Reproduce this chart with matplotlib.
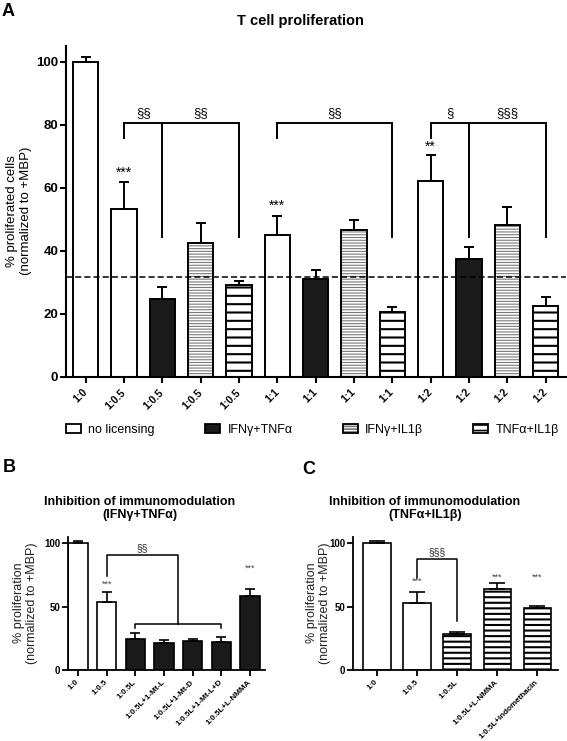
import numpy as np
import matplotlib
matplotlib.use('Agg')
import matplotlib.pyplot as plt
from matplotlib.patches import Patch
from matplotlib.legend_handler import HandlerTuple

plt.rcParams['font.family'] = ['Liberation Sans', 'DejaVu Sans']
plt.rcParams['hatch.linewidth'] = 1.2

W, H = 567, 741

# ---- panel A data
a_labels = ['1:0', '1:0.5', '1:0.5', '1:0.5', '1:0.5', '1:1', '1:1', '1:1', '1:1',
            '1:2', '1:2', '1:2', '1:2']
a_group = [0, 0, 1, 2, 3, 0, 1, 2, 3, 0, 1, 2, 3]
a_mean = [100, 53.1, 24.6, 42.3, 29.0, 45.0, 30.9, 46.6, 20.6, 62.2, 37.3, 48.2, 22.5]
a_err = [1.5, 8.8, 3.8, 6.6, 1.3, 6.0, 3.0, 3.1, 1.6, 8.1, 3.8, 5.6, 2.9]
a_cutoff = 31.7
group_names = ['no licensing', 'IFNγ+TNFα', 'IFNγ+IL1β', 'TNFα+IL1β']

# brackets: legs, leg bottoms, label x, labels
a_top = 80.6
a_brackets = [
    ([1, 2, 4], [75.7, 44.4, 44.4], [1.5, 3], ['§§', '§§']),
    ([5, 8], [75.7, 44.4], [6.5], ['§§']),
    ([9, 10, 12], [75.7, 44.4, 44.4], [9.5, 11], ['§', '§§§']),
]
a_stars = [(1, '***', 64.6), (5, '***', 54.2), (9, '**', 73.0)]

# ---- panel B data
b_labels = ['1:0', '1:0.5', '1:0.5L', '1:0.5L+1-Mt-L', '1:0.5L+1-Mt-D',
            '1:0.5L+1-Mt-L+D', '1:0.5L+L-NMMA']
b_group = [0, 0, 1, 1, 1, 1, 1]
b_mean = [100, 53.3, 24.4, 21.5, 22.8, 21.8, 58.8]
b_err = [1.5, 8.4, 4.5, 2.1, 1.9, 3.9, 5.5]
b_stars = [(1, '***', 67.5), (6, '***', 80.0)]

# ---- panel C data
c_labels = ['1:0', '1:0.5', '1:0.5L', '1:0.5L+L-NMMA', '1:0.5L+indomethacin']
c_group = [0, 0, 3, 3, 3]
c_mean = [100, 52.8, 28.5, 63.8, 48.6]
c_err = [1.5, 8.6, 1.5, 5.0, 1.6]
c_stars = [(1, '***', 70.0), (3, '***', 73.0), (4, '***', 73.0)]


def set_hlw(bars, lw):
    for p in bars:
        if hasattr(p, 'set_hatch_linewidth'):
            p.set_hatch_linewidth(lw)


def draw_bars(ax, means, errs, groups, width, lw, black_hatch, gray_hatch, capsize):
    x = np.arange(len(means))
    for xi, m, g in zip(x, means, groups):
        if g == 2:
            hb = ax.bar(xi, m, width, color='white', edgecolor='#7a7a7a',
                        hatch=gray_hatch, linewidth=0, zorder=2)
            set_hlw(hb, 0.8)
            ax.bar(xi, m, width, facecolor='none', edgecolor='black', linewidth=lw, zorder=3)
        elif g == 3:
            hb = ax.bar(xi, m, width, color='white', edgecolor='black',
                        hatch=black_hatch, linewidth=lw, zorder=2)
            set_hlw(hb, 1.5)
        else:
            face = '#1a1a1a' if g == 1 else 'white'
            ax.bar(xi, m, width, color=face, edgecolor='black', linewidth=lw, zorder=2)
    ax.errorbar(x, means, yerr=[np.zeros(len(errs)), errs], fmt='none', ecolor='black',
                elinewidth=lw, capsize=capsize, capthick=lw, zorder=4)
    return x


def style_axes(ax, labels, xlabsize, ylabsize, lw, xpad):
    for s in ['top', 'right']:
        ax.spines[s].set_visible(False)
    for s in ['left', 'bottom']:
        ax.spines[s].set_linewidth(lw)
    ax.tick_params(width=lw, length=4, labelsize=ylabsize, pad=1.5)
    ax.set_xticks(np.arange(len(labels)))
    ax.set_xticklabels(labels, rotation=45, ha='right', va='center',
                       rotation_mode='anchor', fontsize=xlabsize, fontweight='bold')
    ax.tick_params(axis='x', pad=xpad)
    for t in ax.get_yticklabels():
        t.set_fontweight('bold')


def rect(l, t, r, b):
    return [l / W, 1 - b / H, (r - l) / W, (b - t) / H]


fig = plt.figure(figsize=(W / 100, H / 100), dpi=100)

# ================= A
axA = fig.add_axes(rect(66, 45.9, 566, 376.7))
with plt.rc_context({'hatch.linewidth': 1.5}):
    xA = draw_bars(axA, a_mean, a_err, a_group, 0.665, 1.4, '--', '------', 3.8)
axA.set_xlim(-0.514, 12.53)
axA.set_ylim(0, 105)
axA.set_yticks([0, 20, 40, 60, 80, 100])
style_axes(axA, a_labels, 7.5, 9.5, 1.5, 6)
axA.axhline(a_cutoff, color='black', lw=1.1, ls=(0, (4, 2)), zorder=5)

for legs, bottoms, lx, labs in a_brackets:
    axA.plot([legs[0], legs[-1]], [a_top, a_top], color='black', lw=1.4, zorder=5,
             solid_capstyle='projecting')
    for lg, bt in zip(legs, bottoms):
        axA.plot([lg, lg], [bt, a_top], color='black', lw=1.4, zorder=5)
    for xx, s in zip(lx, labs):
        axA.text(xx, a_top + 1.2, s, ha='center', va='bottom', fontsize=9.5)
for xi, s, yy in a_stars:
    axA.text(xi, yy, s, ha='center', va='center', fontsize=10)

fig.text(300 / W, 1 - 20.7 / H, 'T cell proliferation', ha='center', va='center',
         fontsize=10.5, fontweight='bold')
fig.text(2 / W, 1 - 3 / H, 'A', ha='left', va='top', fontsize=13, fontweight='bold')
fig.text(19 / W, 1 - 211 / H, '% proliferated cells\n(normalized to +MBP)', rotation=90,
         ha='center', va='center', fontsize=9.5, linespacing=1.15)

# legend for A
h0 = Patch(facecolor='white', edgecolor='black', linewidth=1.3)
h1 = Patch(facecolor='#1a1a1a', edgecolor='black', linewidth=1.3)
h2 = (Patch(facecolor='white', edgecolor='#7a7a7a', hatch='------', linewidth=0),
      Patch(facecolor='none', edgecolor='black', linewidth=1.3))
h3 = Patch(facecolor='white', edgecolor='black', hatch='---', linewidth=1.3)
fig.legend([h0, h1, h2, h3], group_names, ncol=4, loc='center left',
           bbox_to_anchor=(66 / W, 1 - 430 / H), frameon=False, fontsize=9,
           handlelength=1.2, handleheight=0.75, handletextpad=0.6, columnspacing=4.0,
           borderaxespad=0, borderpad=0,
           handler_map={tuple: HandlerTuple(ndivide=1, pad=0)})

# ================= B
axB = fig.add_axes(rect(68, 537, 265, 670))
xB = draw_bars(axB, b_mean, b_err, b_group, 0.68, 1.2, '---', '------', 3.5)
axB.set_xlim(-0.35, 6.52)
axB.set_ylim(0, 105)
axB.set_yticks([0, 50, 100])
style_axes(axB, b_labels, 5.8, 7, 1.3, 4)
bk = 'black'
axB.plot([1, 1, 3.5, 3.5], [74, 91, 91, 36], color=bk, lw=1.1, zorder=5)
axB.plot([2, 2, 5, 5], [33, 36, 36, 33], color=bk, lw=1.1, zorder=5)
axB.text(2.25, 92.5, '§§', ha='center', va='bottom', fontsize=7.5, color='#222222')
for xi, s, yy in b_stars:
    axB.text(xi, yy, s, ha='center', va='center', fontsize=6.5, color='#444444')
fig.text(140 / W, 1 - 508.5 / H, 'Inhibition of immunomodulation\n(IFNγ+TNFα)',
         ha='center', va='center', fontsize=9, fontweight='bold', linespacing=1.1)
fig.text(3 / W, 1 - 459 / H, 'B', ha='left', va='top', fontsize=13, fontweight='bold')
fig.text(25.5 / W, 1 - 603 / H, '% proliferation\n(normalized to +MBP)', rotation=90,
         ha='center', va='center', fontsize=9, linespacing=1.15, color='#222222')

# ================= C
axC = fig.add_axes(rect(353, 537, 558, 670))
with plt.rc_context({'hatch.linewidth': 1.2}):
    xC = draw_bars(axC, c_mean, c_err, c_group, 0.68, 1.2, '---', '------', 5.5)
axC.set_xlim(-0.6, 4.52)
axC.set_ylim(0, 105)
axC.set_yticks([0, 50, 100])
style_axes(axC, c_labels, 5.8, 7, 1.3, 4)
axC.plot([1, 1, 2, 2], [73, 87.6, 87.6, 38.7], color=bk, lw=1.1, zorder=5)
axC.text(1.5, 89, '§§§', ha='center', va='bottom', fontsize=7.5, color='#222222')
for xi, s, yy in c_stars:
    axC.text(xi, yy, s, ha='center', va='center', fontsize=6.5, color='#444444')
fig.text(425 / W, 1 - 508.5 / H, 'Inhibition of immunomodulation\n(TNFα+IL1β)',
         ha='center', va='center', fontsize=9, fontweight='bold', linespacing=1.1)
fig.text(302 / W, 1 - 461 / H, 'C', ha='left', va='top', fontsize=13, fontweight='bold')
fig.text(318.5 / W, 1 - 603 / H, '% proliferation\n(normalized to +MBP)', rotation=90,
         ha='center', va='center', fontsize=9, linespacing=1.15, color='#222222')

fig.savefig('out.png', dpi=100)
